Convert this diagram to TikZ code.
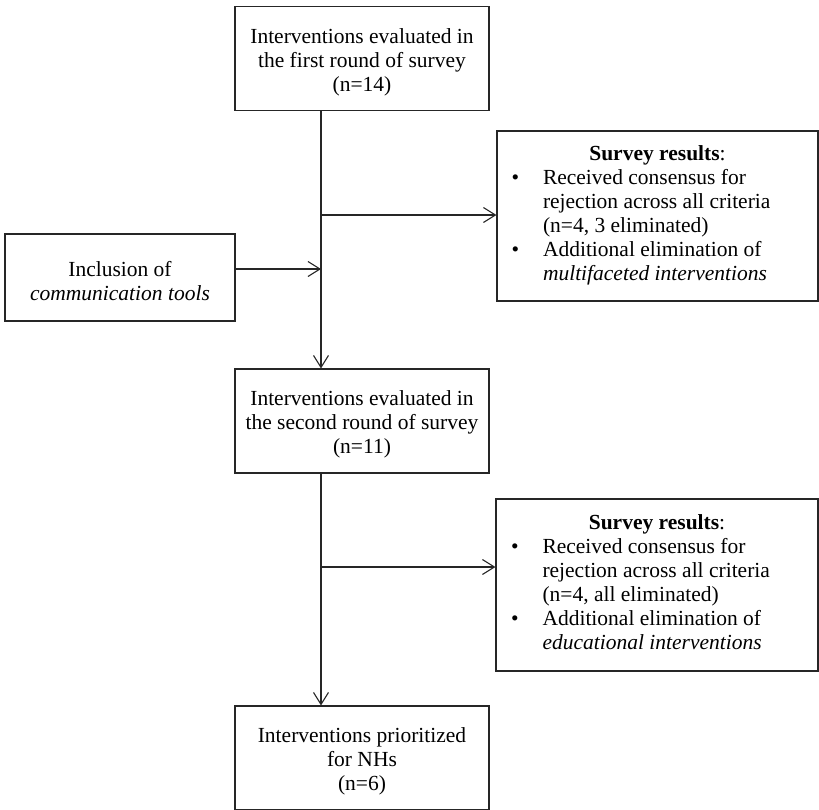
\documentclass[tikz,border=0pt]{standalone}
\usepackage{fontspec}
\setmainfont{Liberation Serif}
\usetikzlibrary{arrows.meta}
\newcommand{\tstrut}{\rule{0pt}{22pt}}
\begin{document}
\begin{tikzpicture}[x=1pt,y=1pt,
  every node/.style={font=\fontsize{21.5}{24}\selectfont},
  box/.style={draw=black!85,line width=1.1pt,rectangle,inner sep=0pt,align=center},
  arr/.style={draw=black!85,line width=1.1pt,-{Straight Barb[length=12pt,width=15pt,line width=1.1pt]}},
  ln/.style={draw=black!85,line width=1.1pt}]
\useasboundingbox (0,0) rectangle (819,-809);
% main column boxes
\node[box,minimum width=254pt,minimum height=104pt] (b1) at (362,-58.5)
  {\tstrut Interventions evaluated in\\the first round of survey\\(n=14)};
\node[box,minimum width=254pt,minimum height=104pt] (b2) at (362,-421)
  {\tstrut Interventions evaluated in\\the second round of survey\\(n=11)};
\node[box,minimum width=254pt,minimum height=104pt] (b3) at (362,-758)
  {\tstrut Interventions prioritized\\for NHs\\(n=6)};
% left box
\node[box,minimum width=230pt,minimum height=87pt] (l1) at (120,-277.5)
  {\tstrut Inclusion of\\\textit{communication tools}};
% right boxes
\node[box,minimum width=321pt,minimum height=170pt] (r1) at (657.5,-216)
  {\begin{tabular}{@{}p{31.5pt}@{}p{260.5pt}@{}}
   \multicolumn{2}{@{}c@{}}{\textbf{Survey results}:}\\
   \textbullet & Received consensus for\\
   & rejection across all criteria\\
   & (n=4, 3 eliminated)\\
   \textbullet & Additional elimination of\\
   & \textit{multifaceted interventions}
   \end{tabular}};
\node[box,minimum width=322pt,minimum height=172pt] (r2) at (657,-585)
  {\begin{tabular}{@{}p{31.5pt}@{}p{260.5pt}@{}}
   \multicolumn{2}{@{}c@{}}{\textbf{Survey results}:}\\
   \textbullet & Received consensus for\\
   & rejection across all criteria\\
   & (n=4, all eliminated)\\
   \textbullet & Additional elimination of\\
   & \textit{educational interventions}
   \end{tabular}};
% junction coordinates
\coordinate (j1) at (321,-215);
\coordinate (j2) at (321,-269);
\coordinate (j3) at (321,-567);
% connectors
\draw[arr] (b1.south -| j1) -- (b2.north -| j1);
\draw[arr] (j1) -- (r1.west |- j1);
\draw[arr] (l1.east |- j2) -- (j2);
\draw[arr] (b2.south -| j3) -- (b3.north -| j3);
\draw[arr] (j3) -- (r2.west |- j3);
\end{tikzpicture}
\end{document}
